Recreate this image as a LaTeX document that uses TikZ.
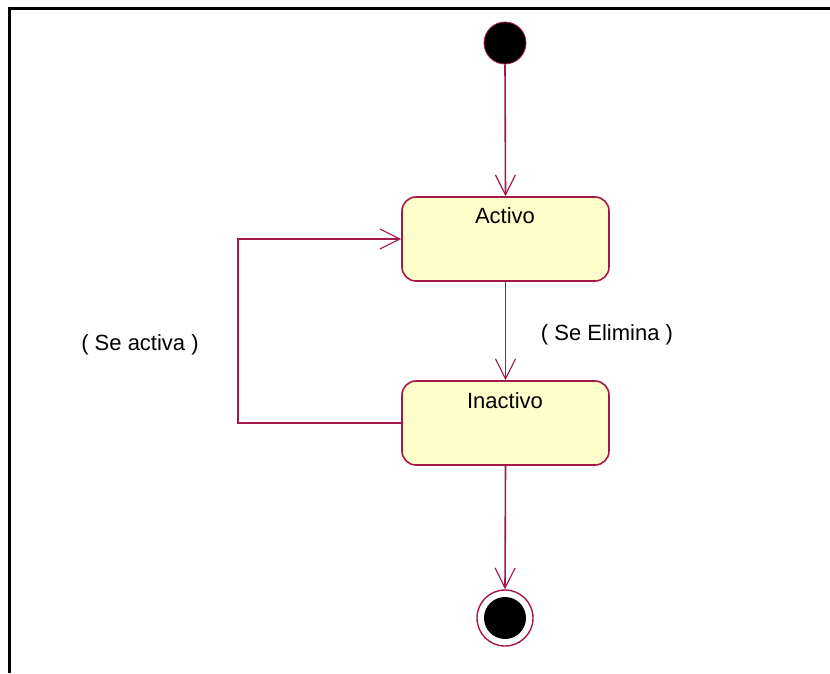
\documentclass[tikz,border=0pt]{standalone}
\usepackage{fontspec}
\setmainfont{Liberation Sans}
\usetikzlibrary{arrows.meta}
\definecolor{umlred}{RGB}{165,25,70}
\definecolor{umlfill}{RGB}{255,255,204}
\tikzset{
  statebox/.style={draw=umlred, fill=umlfill, line width=1.6pt, rounded corners=14pt,
    minimum width=207pt, minimum height=84pt, inner sep=0pt},
  trans/.style={draw=umlred, line width=1.6pt, -{Straight Barb[length=20pt,width=20pt,line width=1.2pt]}},
  lbl/.style={font=\fontsize{22}{26}\selectfont, inner sep=0pt},
}
\begin{document}
\begin{tikzpicture}[x=1pt,y=-1pt]
\useasboundingbox (0,0) rectangle (830,673);
\fill[white] (0,0) rectangle (830,673);
% frame
\draw[line width=3pt, black] (9.5,673) -- (9.5,8.5) -- (830,8.5);
% initial
\node (init) [circle, fill=black, draw=umlred, line width=0.8pt, minimum size=42pt, inner sep=0pt] at (505,43) {};
% states
\node (act) [statebox] at (505.5,239) {};
\node[lbl, anchor=base] at (505,223) {Activo};
\node (inact) [statebox] at (505.5,423) {};
\node[lbl, anchor=base] at (505,408) {Inactivo};
% final
\node (fin) [circle, draw=umlred, line width=1.4pt, fill=white, minimum size=56pt, inner sep=0pt] at (505,618) {};
\node (finin) [circle, fill=black, minimum size=42pt, inner sep=0pt] at (fin.center) {};
% transitions
\draw[trans] (init.south) -- (act.north);
\draw[trans] (act.south) -- (inact.north);
\draw[trans] (inact.south) -- (fin.north);
\coordinate (c1) at (238,423);
\coordinate (c2) at (238,239);
\draw[trans] (inact.west) -- (c1) -- (c2) -- (act.west);
% labels
\node[lbl, anchor=base] (l1) at (607,340) {( Se Elimina )};
\node[lbl, anchor=base] (l2) at (140,350) {( Se activa )};
\end{tikzpicture}
\end{document}
